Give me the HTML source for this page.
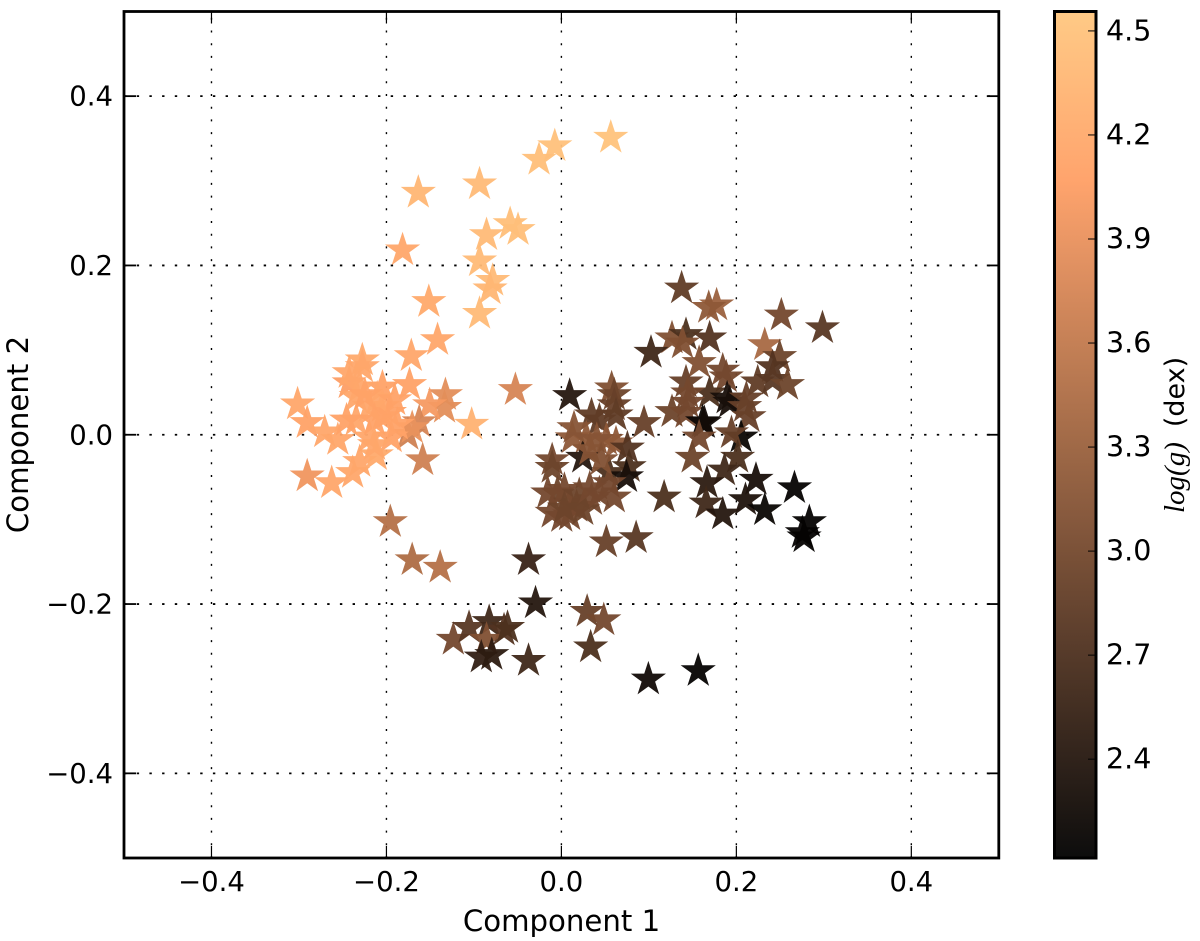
<!DOCTYPE html>
<html lang="en">
<head>
<meta charset="utf-8">
<title>Component scatter coloured by log(g)</title>
<style>
html,body{margin:0;padding:0;background:#fff;}
#chart{display:block;width:1200px;height:941px;}
text{font-family:"DejaVu Sans","Liberation Sans",sans-serif;fill:#000;}
</style>
</head>
<body>
<svg id="chart" xmlns="http://www.w3.org/2000/svg" width="1200" height="941" viewBox="0 0 1200 941">
  <defs>
    <linearGradient id="copper-gradient" x1="0" y1="1" x2="0" y2="0"></linearGradient>
  </defs>
  <g id="grid"></g>
  <g id="stars"></g>
  <g id="axes"></g>
  <g id="cbar"></g>
  <text x="561.5" y="931" text-anchor="middle" font-size="29.2">Component 1</text>
  <text transform="translate(28,434.5) rotate(-90)" text-anchor="middle" font-size="29.2">Component 2</text>
  <text transform="translate(1184,513) rotate(-90)" text-anchor="start" font-size="27"><tspan font-family="'Liberation Serif',serif" font-style="italic" font-size="29">log(g)</tspan><tspan dx="15">(dex)</tspan></text>
</svg>
<script>
var componentOne = [
0.057,-0.007,-0.025,-0.093,-0.163,-0.058,-0.049,-0.085,-0.181,-0.093,-0.078,-0.081,-0.151,-0.093,-0.141,-0.171,-0.052,-0.102,
-0.301,-0.290,-0.270,-0.255,-0.290,-0.262,-0.158,-0.132,-0.133,-0.150,-0.162,-0.175,-0.170,-0.194,-0.173,-0.227,-0.227,-0.242,-0.242,-0.204,-0.204,-0.204,-0.219,-0.196,-0.234,-0.245,-0.230,-0.230,-0.238,-0.211,-0.219,-0.234,
-0.210,-0.190,-0.213,-0.187,-0.224,-0.213,
-0.195,-0.170,-0.138,
0.010,0.058,0.061,0.061,0.063,0.035,0.044,0.095,0.013,0.029,0.052,0.063,0.041,0.025,0.076,-0.010,-0.010,0.078,0.055,0.075,0.055,0.061,-0.004,-0.015,0.010,-0.010,0.001,0.018,0.010,0.035,0.025,0.044,0.052,0.086,0.118,
0.004,0.021,0.033,0.004,0.033,0.046,0.015,
0.138,0.178,0.169,0.252,0.299,0.127,0.143,0.139,0.170,0.103,0.233,0.250,0.242,0.158,0.185,0.189,0.143,0.225,0.242,0.259,0.170,0.145,0.190,0.193,0.212,0.210,0.145,0.127,0.143,0.215,0.162,0.164,0.206,0.158,0.195,0.150,0.202,0.187,0.223,0.267,0.167,0.211,0.166,0.185,0.233,0.284,0.278,0.276,
-0.037,-0.029,0.030,0.049,0.034,-0.037,0.100,0.157,-0.123,-0.105,-0.082,-0.065,-0.085,-0.091,-0.079,-0.061
];
var componentTwo = [
0.351,0.341,0.325,0.296,0.286,0.249,0.242,0.236,0.218,0.205,0.182,0.172,0.157,0.143,0.112,0.093,0.053,0.012,
0.036,0.014,0.003,-0.006,-0.049,-0.057,-0.030,0.047,0.032,0.035,0.015,0.000,0.008,-0.003,0.059,0.088,0.080,0.061,0.073,0.056,0.033,0.021,0.033,0.026,0.017,0.017,0.056,-0.032,-0.045,-0.024,-0.003,0.045,
0.043,0.041,0.017,0.012,0.047,-0.012,
-0.103,-0.148,-0.157,
0.046,0.055,0.047,0.035,0.023,0.023,0.017,0.014,-0.004,-0.004,-0.006,-0.010,-0.006,-0.027,-0.016,-0.030,-0.039,-0.038,-0.045,-0.050,-0.057,-0.074,-0.069,-0.069,-0.081,-0.092,-0.097,-0.085,-0.095,-0.077,-0.089,-0.069,-0.127,-0.122,-0.074,
-0.065,-0.071,-0.063,-0.087,-0.018,-0.030,0.008,
0.173,0.153,0.150,0.141,0.126,0.114,0.118,0.108,0.114,0.097,0.106,0.092,0.080,0.085,0.076,0.068,0.062,0.062,0.065,0.059,0.049,0.049,0.043,0.038,0.043,0.033,0.038,0.027,0.026,0.021,0.015,0.014,-0.003,-0.003,0.002,-0.027,-0.027,-0.042,-0.053,-0.063,-0.057,-0.077,-0.081,-0.094,-0.089,-0.103,-0.121,-0.116,
-0.148,-0.199,-0.209,-0.219,-0.251,-0.267,-0.289,-0.279,-0.242,-0.228,-0.221,-0.231,-0.242,-0.263,-0.260,-0.228
];
var logG = [
4.5,4.48,4.45,4.4,4.35,4.45,4.45,4.4,4.15,4.4,4.4,4.35,4.2,4.4,4.15,4.15,3.75,4.3,
4.15,4.1,4.15,4.15,3.95,4.15,3.7,3.85,3.85,4.0,3.75,3.7,3.9,4.1,4.1,4.2,4.15,4.05,4.15,4.1,4.15,4.1,4.15,4.1,4.15,4.1,4.15,4.15,4.15,4.2,4.15,4.15,
4.15,4.1,4.1,4.1,4.1,4.15,
3.5,3.45,3.5,
2.4,3.1,2.95,2.9,2.85,2.85,2.85,2.9,3.2,3.2,3.2,3.2,3.15,2.4,2.75,3.0,2.95,2.7,2.7,2.3,3.0,3.0,2.95,3.0,2.95,3.0,3.0,3.0,3.0,3.0,2.95,3.0,2.9,2.8,2.7,
3.0,2.95,3.0,2.95,3.15,3.1,3.15,
2.85,3.3,3.2,3.0,2.8,3.1,2.7,3.1,2.75,2.6,3.4,2.95,2.75,3.1,3.0,3.0,2.9,2.85,2.8,2.95,2.7,3.0,2.3,2.3,2.9,2.9,3.0,2.95,3.0,2.9,2.2,2.25,2.2,3.0,2.9,2.95,2.7,2.6,2.3,2.15,2.45,2.35,2.6,2.4,2.2,2.15,2.15,2.15,
2.55,2.4,2.9,3.0,2.7,2.6,2.25,2.15,3.0,2.8,2.6,2.75,3.1,2.5,2.45,2.7
];
var xTicks = [-0.4,-0.2,0,0.2,0.4];
var xTickLabels = ['\u22120.4','\u22120.2','0.0','0.2','0.4'];
var yTicks = [-0.4,-0.2,0,0.2,0.4];
var yTickLabels = ['\u22120.4','\u22120.2','0.0','0.2','0.4'];
var colorTicks = [2.4,2.7,3.0,3.3,3.6,3.9,4.2,4.5];
var colorTickLabels = ['2.4','2.7','3.0','3.3','3.6','3.9','4.2','4.5'];
var colorMin = 2.115;
var colorMax = 4.556;

var NS = 'http://www.w3.org/2000/svg';
var L = 124, R = 998.8, T = 11.5, B = 858;
var CL = 1054.5, CR = 1096, CT = 11.5, CB = 858;
function sx(v){ return L + (v + 0.5) * (R - L); }
function sy(v){ return B - (v + 0.5) * (B - T); }
function sc(v){ return CB - (v - colorMin) / (colorMax - colorMin) * (CB - CT); }
function copper(t){
  t = Math.max(0, Math.min(1, t));
  return 'rgb(' + Math.round(255 * Math.min(1, 1.25 * t)) + ',' + Math.round(255 * 0.7812 * t) + ',' + Math.round(255 * 0.4975 * t) + ')';
}
function make(tag, attrs, parent){
  var e = document.createElementNS(NS, tag);
  for (var k in attrs) e.setAttribute(k, attrs[k]);
  parent.appendChild(e);
  return e;
}
function starPoints(cx, cy, r){
  var pts = [];
  for (var i = 0; i < 10; i++){
    var rad = i % 2 ? r * 0.381966 : r;
    var a = -Math.PI / 2 + i * Math.PI / 5;
    pts.push((cx + rad * Math.cos(a)).toFixed(2) + ',' + (cy + rad * Math.sin(a)).toFixed(2));
  }
  return pts.join(' ');
}
var grid = document.getElementById('grid');
var stars = document.getElementById('stars');
var axes = document.getElementById('axes');
var cbar = document.getElementById('cbar');

xTicks.forEach(function(v, i){
  var x = sx(v);
  var g = make('line', {x1:x, y1:B, x2:x, y2:T, stroke:'#000', 'stroke-width':1.4, 'stroke-dasharray':'2 10.7'}, grid);
  
  
  var t1 = make('line', {x1:x, y1:B, x2:x, y2:B - 12, stroke:'#000', 'stroke-width':1.2}, axes);
  
  
  var t2 = make('line', {x1:x, y1:T, x2:x, y2:T + 12, stroke:'#000', 'stroke-width':1.2}, axes);
  
  
  var lab = make('text', {x:x, y:891, 'text-anchor':'middle', 'font-size':27.5}, axes);
  lab.textContent = xTickLabels[i];
  
  
});
yTicks.forEach(function(v, i){
  var y = sy(v);
  var g = make('line', {x1:L, y1:y, x2:R, y2:y, stroke:'#000', 'stroke-width':1.8, 'stroke-dasharray':'2.4 10.3'}, grid);
  
  
  var t1 = make('line', {x1:L, y1:y, x2:L + 12, y2:y, stroke:'#000', 'stroke-width':1.8}, axes);
  
  
  var t2 = make('line', {x1:R, y1:y, x2:R - 12, y2:y, stroke:'#000', 'stroke-width':1.8}, axes);
  
  
  var lab = make('text', {x:113, y:y + 9.5, 'text-anchor':'end', 'font-size':27.5}, axes);
  lab.textContent = yTickLabels[i];
  
  
});
componentOne.forEach(function(v, i){
  var s = make('polygon', {points:starPoints(sx(v) - 0.5, sy(componentTwo[i]), 18.5), fill:copper((logG[i] - colorMin) / (colorMax - colorMin)), 'fill-opacity':0.95}, stars);
  
  
});
var frame = make('rect', {x:L, y:T, width:R - L, height:B - T, fill:'none', stroke:'#000', 'stroke-width':2.8}, axes);



var grad = document.getElementById('copper-gradient');
for (var s = 0; s <= 20; s++){
  make('stop', {offset:(s / 20), 'stop-color':copper(s / 20), 'stop-opacity':0.95}, grad);
}
var bar = make('rect', {x:CL, y:CT, width:CR - CL, height:CB - CT, fill:'url(#copper-gradient)', stroke:'#000', 'stroke-width':3}, cbar);


colorTicks.forEach(function(v, i){
  var y = sc(v);
  var t = make('line', {x1:CR, y1:y, x2:CR - 8, y2:y, stroke:'#000', 'stroke-width':1}, cbar);
  
  
  var lab = make('text', {x:1106, y:y + 9.5, 'text-anchor':'start', 'font-size':28.5}, cbar);
  lab.textContent = colorTickLabels[i];
  
  
});
</script>
</body>
</html>
